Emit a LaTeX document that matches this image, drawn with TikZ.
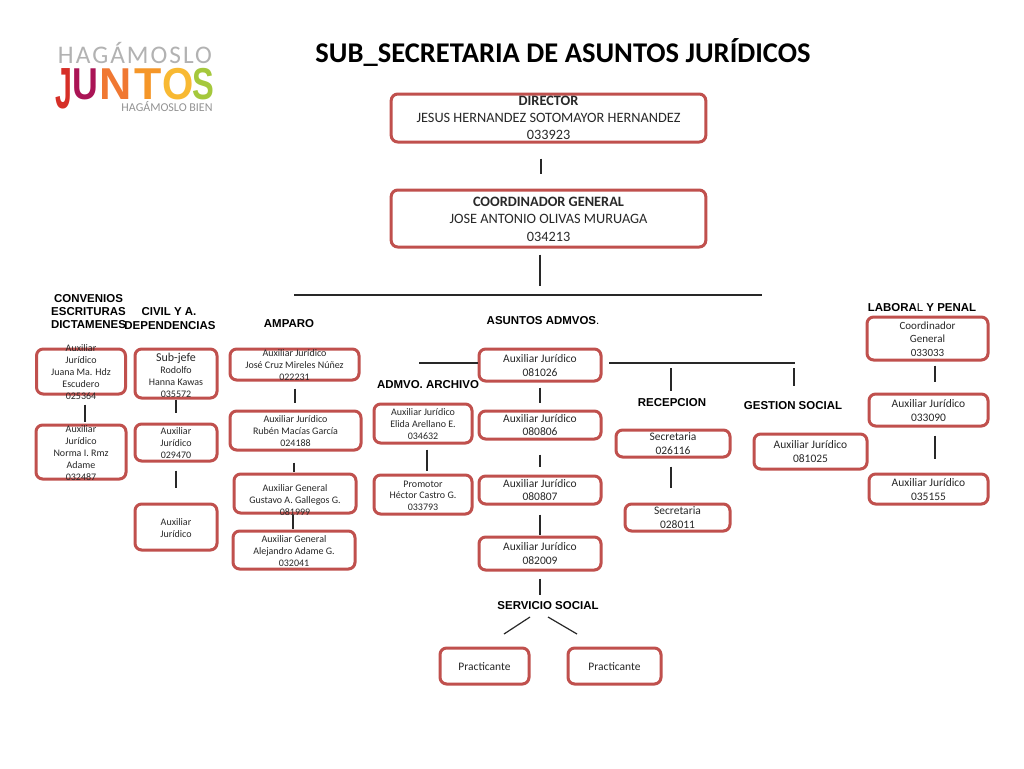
\documentclass[tikz,border=0pt]{standalone}
\usepackage{fontspec}
\setmainfont{Carlito}
\newfontfamily\headfont{Liberation Sans}
\definecolor{boxred}{RGB}{192,80,77}
\definecolor{inkc}{RGB}{40,40,40}
\newcommand{\bt}[3][12]{\smash{\raisebox{\dimexpr-.25em-.75pt\relax}{\fontsize{\fpeval{#1*.75}}{\fpeval{#2*.75}}\selectfont\begin{tabular}{@{}c@{}}#3\end{tabular}}}}
\newcommand{\low}[2]{\smash{\raisebox{-#1pt}{#2}}}
\tikzset{
  x=0.75pt,y=-0.75pt,
  orgbox/.style={draw=boxred,line width=2.25pt,rounded corners=5pt,fill=none,inner sep=0pt,text=inkc,anchor=center},
  conn/.style={draw=inkc,line width=0.9pt},
  headlabel/.style={font=\headfont\bfseries\fontsize{8.6}{10}\selectfont,text=black,inner sep=0pt,align=center},
  plain/.style={inner sep=0pt,text=inkc},
  logoletter/.style={inner sep=0pt,font=\headfont\bfseries\fontsize{33.5}{34}\selectfont}
}
\newcommand{\vc}[5]{\draw[conn,shorten <=#4*0.75pt,shorten >=#5*0.75pt] (#1,0 |- #2.south) -- (#1,0 |- #3.north);}
\begin{document}
\begin{tikzpicture}
\useasboundingbox (0,0) rectangle (1024,768);
\fill[white] (0,0) rectangle (1024,768);
% logo
\node[plain,text=gray!60] (logotop) at (135,53) {\fontsize{19}{19}\selectfont\addfontfeature{LetterSpace=8}HAGÁMOSLO};
\node[plain,text=gray!85] (logobot) at (167,107) {\fontsize{9}{9}\selectfont HAGÁMOSLO BIEN};
\node[logoletter,text={rgb,255:red,214;green,47;blue,39}] (lj) at (63.5,89) {\scalebox{.68}[1.3]{J}};
\node[logoletter,text={rgb,255:red,170;green,20;blue,85}] (lu) at (85,84) {\scalebox{.8}[1]{U}};
\node[logoletter,text={rgb,255:red,240;green,120;blue,50}] (ln) at (115.5,84) {\scalebox{1}[1]{N}};
\node[logoletter,text={rgb,255:red,245;green,150;blue,40}] (lt) at (148,84) {\scalebox{1}[1]{T}};
\node[logoletter,text={rgb,255:red,248;green,185;blue,50}] (lo) at (178,84) {\scalebox{.9}[1]{O}};
\node[logoletter,text={rgb,255:red,165;green,200;blue,60}] (ls) at (203,84) {\scalebox{.73}[1]{S}};
% title
\node[plain,text=black] (title) at (563,53) {\fontsize{21.4}{24}\selectfont\bfseries SUB\_SECRETARIA DE ASUNTOS JURÍDICOS};
% top
\node[orgbox,minimum width=236pt,minimum height=36pt] (dir) at (548.5,118) {\low{0.4}{\bt[14.3]{17}{\textbf{DIRECTOR}\\JESUS HERNANDEZ SOTOMAYOR HERNANDEZ\\033923}}};
\node[orgbox,minimum width=236pt,minimum height=42.75pt] (coord) at (548.5,218.5) {\low{0.75}{\bt[14.3]{17.5}{\textbf{COORDINADOR GENERAL}\\JOSE ANTONIO OLIVAS MURUAGA\\034213}}};
% headers
\node[headlabel] (hconv) at (88.5,311.5) {CONVENIOS\\ESCRITURAS\\DICTAMENES};
\node[headlabel,anchor=base] (hcivil) at (169,315) {CIVIL Y A.};
\node[headlabel,anchor=base] (hdep) at (170,329) {DEPENDENCIAS};
\node[headlabel] (hamp) at (289,324) {AMPARO};
\node[headlabel] (hasu) at (543,321) {ASUNTOS ADMVOS{\mdseries .}};
\node[headlabel] (harc) at (428,385) {ADMVO. ARCHIVO};
\node[headlabel] (hrec) at (672,403) {RECEPCION};
\node[headlabel] (hges) at (793,406) {GESTION SOCIAL};
\node[headlabel] (hlab) at (922,308) {LABORA{\mdseries L} Y PENAL};
\node[headlabel] (hser) at (548,606) {SERVICIO SOCIAL};
% column 1
\node[orgbox,minimum width=66.75pt,minimum height=33.75pt] (a1) at (81,371.5) {\bt[10]{12}{Auxiliar\\Jurídico\\Juana Ma. Hdz\\Escudero\\025364}};
\node[orgbox,minimum width=67.5pt,minimum height=40.5pt] (a2) at (81,452) {\bt[10]{12}{Auxiliar\\Jurídico\\Norma I. Rmz\\Adame\\032487}};
% column 2
\node[orgbox,minimum width=61.5pt,minimum height=36.75pt] (b1) at (176,373.5) {\low{0.9}{\bt[10]{12}{{\fontsize{9}{9}\selectfont Sub-jefe}\\Rodolfo\\Hanna Kawas\\035572}}};
\node[orgbox,minimum width=61.5pt,minimum height=27.75pt] (b2) at (176,442.5) {\bt[10]{12}{Auxiliar\\Jurídico\\029470}};
\node[orgbox,minimum width=61.5pt,minimum height=34.5pt] (b3) at (176,527) {\bt[10]{12.5}{Auxiliar\\Jurídico}};
% column 3
\node[orgbox,minimum width=96.75pt,minimum height=23.25pt] (c1) at (294.5,364.5) {\bt[10]{12}{Auxiliar Jurídico\\José Cruz Mireles Núñez\\022231}};
\node[orgbox,minimum width=98.25pt,minimum height=29.25pt] (c2) at (295.5,430.5) {\bt[10]{12}{Auxiliar Jurídico\\Rubén Macías García\\024188}};
\node[orgbox,minimum width=91.5pt,minimum height=29.25pt] (c3) at (295,493.5) {\low{4.2}{\bt[10]{12}{Auxiliar General\\Gustavo A. Gallegos G.\\081999}}};
\node[orgbox,minimum width=91.5pt,minimum height=28.5pt] (c4) at (294,550) {\bt[10]{12}{Auxiliar General\\Alejandro Adame G.\\032041}};
% archive column
\node[orgbox,minimum width=73.5pt,minimum height=29.25pt] (d1) at (423,423.5) {\bt[10]{12}{Auxiliar Jurídico\\Elida Arellano E.\\034632}};
\node[orgbox,minimum width=73.5pt,minimum height=29.25pt] (d2) at (423,494.5) {\bt[10]{11.8}{Promotor\\Héctor Castro G.\\033793}};
% centre column
\node[orgbox,minimum width=91.5pt,minimum height=24pt] (e1) at (540,365) {\bt[11.5]{14}{Auxiliar Jurídico\\081026}};
\node[orgbox,minimum width=91.5pt,minimum height=21pt] (e2) at (540,425) {\bt[11.5]{13.5}{Auxiliar Jurídico\\080806}};
\node[orgbox,minimum width=91.5pt,minimum height=21pt] (e3) at (540,490) {\bt[11.5]{13.5}{Auxiliar Jurídico\\080807}};
\node[orgbox,minimum width=91.5pt,minimum height=24.75pt] (e4) at (540,553.5) {\bt[11.5]{14}{Auxiliar Jurídico\\082009}};
% reception
\node[orgbox,minimum width=85.5pt,minimum height=20.25pt] (f1) at (673,443.5) {\bt[11.5]{14}{Secretaria\\026116}};
\node[orgbox,minimum width=78.75pt,minimum height=20.25pt] (f2) at (677.5,517.5) {\bt[11.5]{14}{Secretaria\\028011}};
% social
\node[orgbox,minimum width=84.75pt,minimum height=26.25pt] (g1) at (810.5,451.5) {\bt[11.5]{14}{Auxiliar Jurídico\\081025}};
% labour
\node[orgbox,minimum width=90.75pt,minimum height=32.25pt] (h1) at (927.5,338.5) {\bt[11]{13.5}{Coordinador\\General\\033033}};
\node[orgbox,minimum width=89.25pt,minimum height=24pt] (h2) at (928.5,410) {\bt[11.5]{14}{Auxiliar Jurídico\\033090}};
\node[orgbox,minimum width=89.25pt,minimum height=22.5pt] (h3) at (928.5,489) {\bt[11.5]{14}{Auxiliar Jurídico\\035155}};
% practicante
\node[orgbox,minimum width=66.75pt,minimum height=27pt] (p1) at (484.5,666) {\bt[11.5]{14}{Practicante}};
\node[orgbox,minimum width=69.75pt,minimum height=27pt] (p2) at (614.5,666) {\bt[11.5]{14}{Practicante}};
% connectors
\vc{541}{dir}{coord}{15}{15}
\vc{540}{coord}{hasu}{6}{31}
\coordinate (busl) at (294,295);
\coordinate (busr) at (762,295);
\draw[conn] (busl) -- (busr);
\coordinate (left1) at (419,363);
\draw[conn] (left1) -- (e1.west |- left1);
\coordinate (right1) at (609,363);
\coordinate (right2) at (795,363);
\draw[conn] (right1) -- (right2);
\coordinate (rec1) at (671,368);
\draw[conn] (rec1) -- (671,391);
\coordinate (ges1) at (794,368);
\draw[conn] (ges1) -- (794,386);
\vc{85}{a1}{a2}{9}{2}
\vc{176}{b1}{b2}{0}{10}
\vc{176}{b2}{b3}{8}{15}
\vc{295}{c1}{c2}{7}{7}
\vc{294}{c2}{c3}{11}{1}
\vc{293}{c3}{c4}{0}{1}
\vc{427}{d1}{d2}{5}{3}
\vc{540}{e1}{e2}{5}{7}
\vc{540}{e2}{e3}{14}{8}
\vc{540}{e3}{e4}{9}{1}
\vc{540}{e4}{hser}{7}{7}
\vc{671}{f1}{f2}{8}{15}
\vc{935}{h1}{h2}{4}{11}
\vc{935}{h2}{h3}{8}{14}
\coordinate (dl) at (530,617);
\coordinate (dr) at (548,617);
\draw[conn] (dl) -- (504,634);
\draw[conn] (dr) -- (577,634);
\end{tikzpicture}
\end{document}
